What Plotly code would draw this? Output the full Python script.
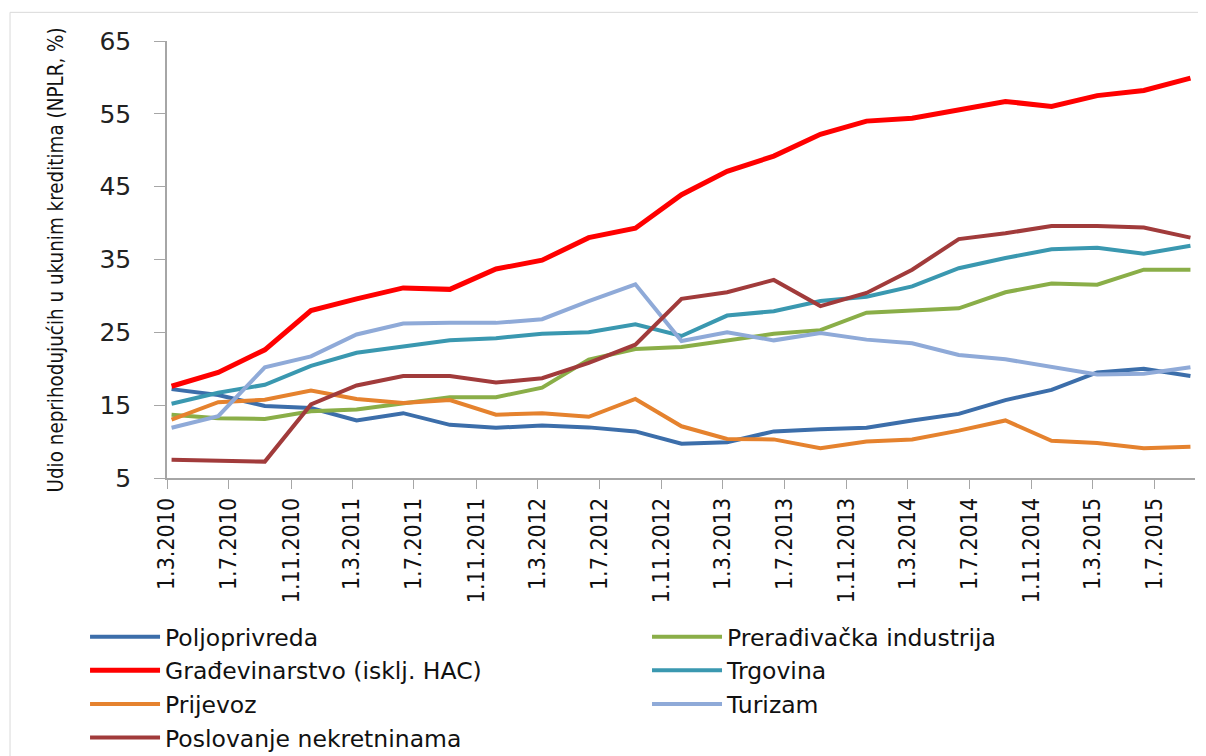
import plotly.graph_objects as go

dates = ["2010-03-10", "2010-06-10", "2010-09-10", "2010-12-10",
         "2011-03-10", "2011-06-10", "2011-09-10", "2011-12-10",
         "2012-03-10", "2012-06-10", "2012-09-10", "2012-12-10",
         "2013-03-10", "2013-06-10", "2013-09-10", "2013-12-10",
         "2014-03-10", "2014-06-10", "2014-09-10", "2014-12-10",
         "2015-03-10", "2015-06-10", "2015-09-10"]

poljoprivreda = [17.2, 16.4, 14.9, 14.6, 12.9, 13.9, 12.3, 11.9, 12.2, 11.95, 11.4, 9.7,
                 9.9, 11.4, 11.7, 11.9, 12.9, 13.8, 15.7, 17.1, 19.5, 20.0, 19.0]
preradivacka = [13.7, 13.2, 13.1, 14.15, 14.4, 15.3, 16.1, 16.1, 17.4, 21.25, 22.7, 23.0,
                23.9, 24.8, 25.3, 27.7, 28.0, 28.3, 30.5, 31.7, 31.55, 33.6, 33.6]
gradevinarstvo = [17.6, 19.5, 22.6, 28.0, 29.6, 31.1, 30.9, 33.7, 34.9, 38.0, 39.3, 43.9,
                  47.1, 49.2, 52.2, 54.0, 54.4, 55.6, 56.7, 56.0, 57.5, 58.2, 59.9]
trgovina = [15.2, 16.7, 17.8, 20.4, 22.2, 23.0, 23.9, 24.2, 24.8, 25.0, 26.1, 24.5,
            27.3, 27.9, 29.3, 29.9, 31.3, 33.8, 35.2, 36.4, 36.6, 35.8, 36.9]
prijevoz = [13.0, 15.4, 15.75, 17.0, 15.85, 15.3, 15.7, 13.7, 13.9, 13.4, 15.85, 12.1,
            10.35, 10.3, 9.1, 10.0, 10.3, 11.5, 12.9, 10.1, 9.8, 9.1, 9.3]
turizam = [11.9, 13.5, 20.2, 21.7, 24.7, 26.2, 26.3, 26.3, 26.8, 29.3, 31.6, 23.8,
           25.0, 23.9, 24.9, 24.0, 23.5, 21.9, 21.3, 20.2, 19.2, 19.3, 20.2]
nekretnine = [7.5, 7.4, 7.25, 15.1, 17.7, 19.0, 19.0, 18.1, 18.7, 20.8, 23.3, 29.6,
              30.5, 32.2, 28.6, 30.4, 33.6, 37.8, 38.6, 39.6, 39.6, 39.4, 38.0]

tick_dates = ["2010-03-01", "2010-07-01", "2010-11-01", "2011-03-01", "2011-07-01",
              "2011-11-01", "2012-03-01", "2012-07-01", "2012-11-01", "2013-03-01",
              "2013-07-01", "2013-11-01", "2014-03-01", "2014-07-01", "2014-11-01",
              "2015-03-01", "2015-07-01"]
tick_labels = ["1.3.2010", "1.7.2010", "1.11.2010", "1.3.2011", "1.7.2011",
               "1.11.2011", "1.3.2012", "1.7.2012", "1.11.2012", "1.3.2013",
               "1.7.2013", "1.11.2013", "1.3.2014", "1.7.2014", "1.11.2014",
               "1.3.2015", "1.7.2015"]

# (name, values, colour, width, legend column)
series = [
    ("Poljoprivreda", poljoprivreda, "#3C6EAA", 4, "legend"),
    ("Prerađivačka industrija", preradivacka, "#8AAE48", 4, "legend2"),
    ("Građevinarstvo (isklj. HAC)", gradevinarstvo, "#FF0000", 5, "legend"),
    ("Trgovina", trgovina, "#3A98B0", 4, "legend2"),
    ("Prijevoz", prijevoz, "#E5822E", 4, "legend"),
    ("Turizam", turizam, "#8FAAD8", 4, "legend2"),
    ("Poslovanje nekretninama", nekretnine, "#A13B3B", 4, "legend"),
]

fig = go.Figure()
for name, vals, color, w, leg in series:
    fig.add_trace(go.Scatter(x=dates, y=vals, mode="lines", name=name, legend=leg,
                             line=dict(color=color, width=w)))

narrow = "DejaVu Sans Condensed, Liberation Sans Narrow, sans-serif"
legend_font = dict(family="DejaVu Sans", size=23.5, color="#111111")

fig.update_layout(
    width=1198, height=748,
    margin=dict(l=159, r=11, t=32.7, b=277.7, autoexpand=False),
    paper_bgcolor="white", plot_bgcolor="white",
    showlegend=True,
    legend=dict(orientation="v", xref="container", yref="container",
                x=0.0643, xanchor="left", y=0.1885, yanchor="top",
                font=legend_font, tracegroupgap=0, traceorder="normal",
                itemwidth=70, bgcolor="rgba(0,0,0,0)"),
    legend2=dict(orientation="v", xref="container", yref="container",
                 x=0.5334, xanchor="left", y=0.1885, yanchor="top",
                 font=legend_font, tracegroupgap=0, traceorder="normal",
                 itemwidth=70, bgcolor="rgba(0,0,0,0)"),
    xaxis=dict(type="date", range=["2010-03-01", "2015-09-19"], automargin=False,
               tickmode="array", tickvals=tick_dates, ticktext=tick_labels,
               tickangle=-90, ticks="outside", ticklen=9, tickcolor="#A6A6A6",
               showline=True, linecolor="#A6A6A6", linewidth=1.5,
               showgrid=False, zeroline=False, ticklabelstandoff=0,
               tickfont=dict(family=narrow, size=23, color="#111111")),
    yaxis=dict(range=[5, 65], tickvals=[5, 15, 25, 35, 45, 55, 65], automargin=False,
               ticks="outside", ticklen=11, tickcolor="#A6A6A6",
               showline=True, linecolor="#A6A6A6", linewidth=1.5,
               showgrid=False, zeroline=False, ticklabelstandoff=18,
               tickfont=dict(family="DejaVu Sans", size=25, color="#222222")),
    annotations=[dict(text="Udio neprihodujućih u ukunim kreditima (NPLR, %)",
                      xref="paper", yref="paper", x=-0.108, y=0.5,
                      xanchor="center", yanchor="middle", textangle=-90,
                      showarrow=False,
                      font=dict(family=narrow, size=20.4, color="#111111"))],
    shapes=[dict(type="rect", xref="paper", yref="paper",
                 x0=-0.1527, x1=1.05, y0=-0.7, y1=1.0656,
                 line=dict(color="#D9D9D9", width=1), fillcolor="rgba(0,0,0,0)",
                 layer="below")],
)

fig.write_html("out.html")
